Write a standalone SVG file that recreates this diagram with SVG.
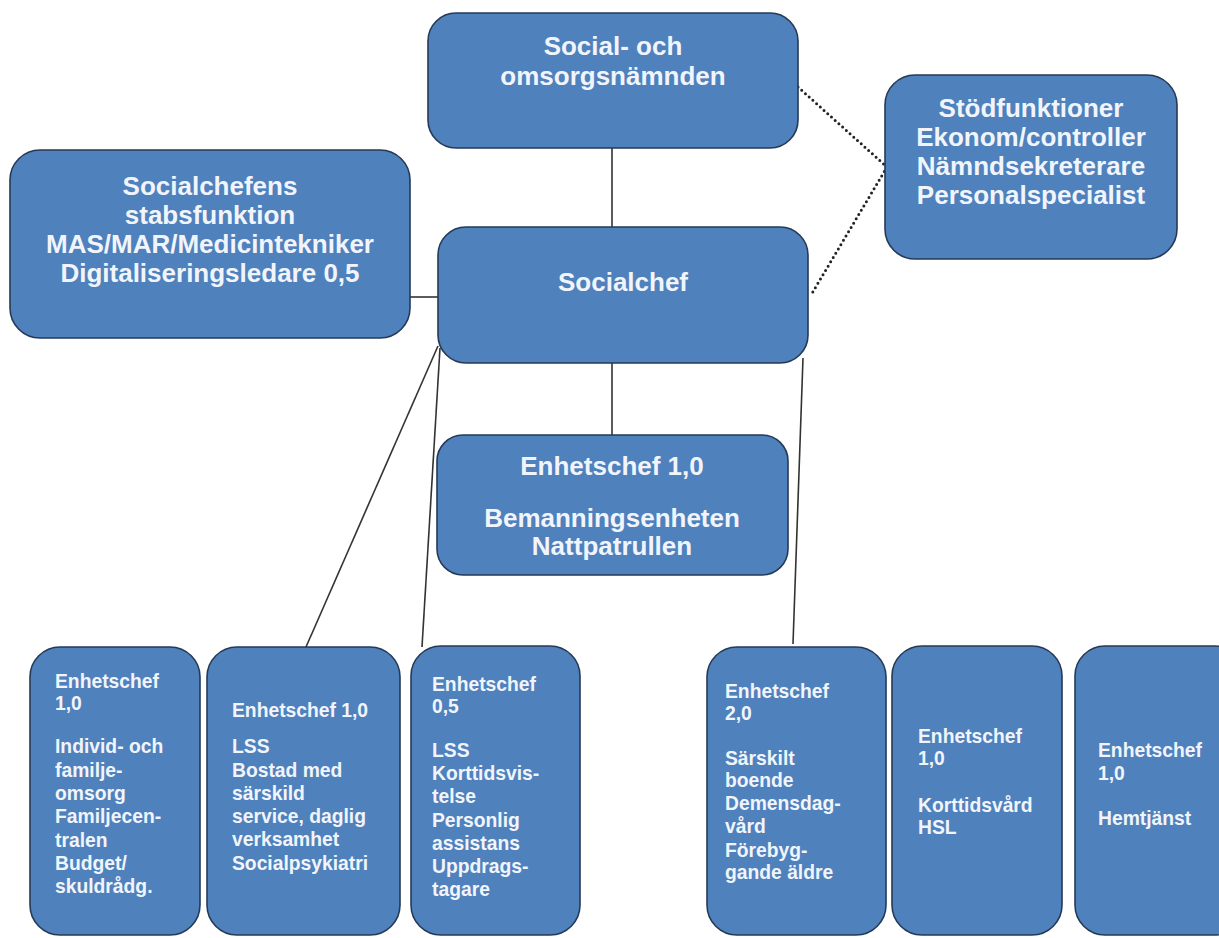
<svg xmlns="http://www.w3.org/2000/svg" width="1219" height="938" viewBox="0 0 1219 938">
<style>
.box{fill:#4f81bd;stroke:#253a56;stroke-width:1.6}
.big{font-family:"Liberation Sans",Arial,sans-serif;font-weight:bold;font-size:26px;fill:#f1f5fb;text-anchor:middle}
.sm{font-family:"Liberation Sans",Arial,sans-serif;font-weight:bold;font-size:19.3px;fill:#f1f5fb}
.ln{stroke:#333;stroke-width:1.6;fill:none}
.dot{stroke:#222;stroke-width:3;stroke-linecap:round;stroke-dasharray:0 5;fill:none}
</style>
<rect width="1219" height="938" fill="#ffffff"/>
<g id="connectors">
<line class="ln" x1="612" y1="148" x2="612" y2="227"/>
<line class="ln" x1="410" y1="297" x2="438" y2="297"/>
<line class="ln" x1="612" y1="363" x2="612" y2="435"/>
<line class="ln" x1="438" y1="346" x2="306" y2="647"/>
<line class="ln" x1="440" y1="348" x2="422" y2="647"/>
<line class="ln" x1="803" y1="358" x2="793" y2="644"/>
<polyline class="dot" points="798,87 887,167 811,295"/>
</g>
<g id="n-namnd">
<rect class="box" x="428" y="13" width="370" height="135" rx="28"/>
<text class="big" x="613" y="55">Social- och</text>
<text class="big" x="613" y="85">omsorgsnämnden</text>
</g>
<g id="n-stod">
<rect class="box" x="885" y="75" width="292" height="184" rx="30"/>
<text class="big" x="1031" y="117">Stödfunktioner</text>
<text class="big" x="1031" y="146">Ekonom/controller</text>
<text class="big" x="1031" y="175">Nämndsekreterare</text>
<text class="big" x="1031" y="204">Personalspecialist</text>
</g>
<g id="n-stab">
<rect class="box" x="10" y="150" width="400" height="188" rx="30"/>
<text class="big" x="210" y="195">Socialchefens</text>
<text class="big" x="210" y="224">stabsfunktion</text>
<text class="big" x="210" y="253">MAS/MAR/Medicintekniker</text>
<text class="big" x="210" y="282">Digitaliseringsledare 0,5</text>
</g>
<g id="n-socialchef">
<rect class="box" x="438" y="227" width="370" height="136" rx="28"/>
<text class="big" x="623" y="291">Socialchef</text>
</g>
<g id="n-beman">
<rect class="box" x="437" y="435" width="351" height="140" rx="26"/>
<text class="big" x="612" y="475">Enhetschef 1,0</text>
<text class="big" x="612" y="527">Bemanningsenheten</text>
<text class="big" x="612" y="555">Nattpatrullen</text>
</g>
<g id="n-ifo">
<rect class="box" x="30" y="647" width="170" height="288" rx="30"/>
<text class="sm" x="55" y="688">Enhetschef</text>
<text class="sm" x="55" y="710">1,0</text>
<text class="sm" x="55" y="753">Individ- och</text>
<text class="sm" x="55" y="777">familje-</text>
<text class="sm" x="55" y="800">omsorg</text>
<text class="sm" x="55" y="823">Familjecen-</text>
<text class="sm" x="55" y="847">tralen</text>
<text class="sm" x="55" y="870">Budget/</text>
<text class="sm" x="55" y="893">skuldrådg.</text>
</g>
<g id="n-lss1">
<rect class="box" x="207" y="647" width="193" height="288" rx="30"/>
<text class="sm" x="232" y="717">Enhetschef 1,0</text>
<text class="sm" x="232" y="753">LSS</text>
<text class="sm" x="232" y="777">Bostad med</text>
<text class="sm" x="232" y="800">särskild</text>
<text class="sm" x="232" y="823">service, daglig</text>
<text class="sm" x="232" y="846">verksamhet</text>
<text class="sm" x="232" y="870">Socialpsykiatri</text>
</g>
<g id="n-lss2">
<rect class="box" x="411" y="646" width="169" height="289" rx="30"/>
<text class="sm" x="432" y="691">Enhetschef</text>
<text class="sm" x="432" y="713">0,5</text>
<text class="sm" x="432" y="757">LSS</text>
<text class="sm" x="432" y="780">Korttidsvis-</text>
<text class="sm" x="432" y="803">telse</text>
<text class="sm" x="432" y="827">Personlig</text>
<text class="sm" x="432" y="850">assistans</text>
<text class="sm" x="432" y="873">Uppdrags-</text>
<text class="sm" x="432" y="896">tagare</text>
</g>
<g id="n-sabo">
<rect class="box" x="707" y="647" width="179" height="288" rx="30"/>
<text class="sm" x="725" y="698">Enhetschef</text>
<text class="sm" x="725" y="720">2,0</text>
<text class="sm" x="725" y="765">Särskilt</text>
<text class="sm" x="725" y="787">boende</text>
<text class="sm" x="725" y="810">Demensdag-</text>
<text class="sm" x="725" y="833">vård</text>
<text class="sm" x="725" y="857">Förebyg-</text>
<text class="sm" x="725" y="879">gande äldre</text>
</g>
<g id="n-kort">
<rect class="box" x="892" y="646" width="170" height="289" rx="30"/>
<text class="sm" x="918" y="743">Enhetschef</text>
<text class="sm" x="918" y="765">1,0</text>
<text class="sm" x="918" y="812">Korttidsvård</text>
<text class="sm" x="918" y="834">HSL</text>
</g>
<g id="n-hemtj">
<rect class="box" x="1075" y="646" width="170" height="289" rx="30"/>
<text class="sm" x="1098" y="757">Enhetschef</text>
<text class="sm" x="1098" y="780">1,0</text>
<text class="sm" x="1098" y="825">Hemtjänst</text>
</g>
</svg>
